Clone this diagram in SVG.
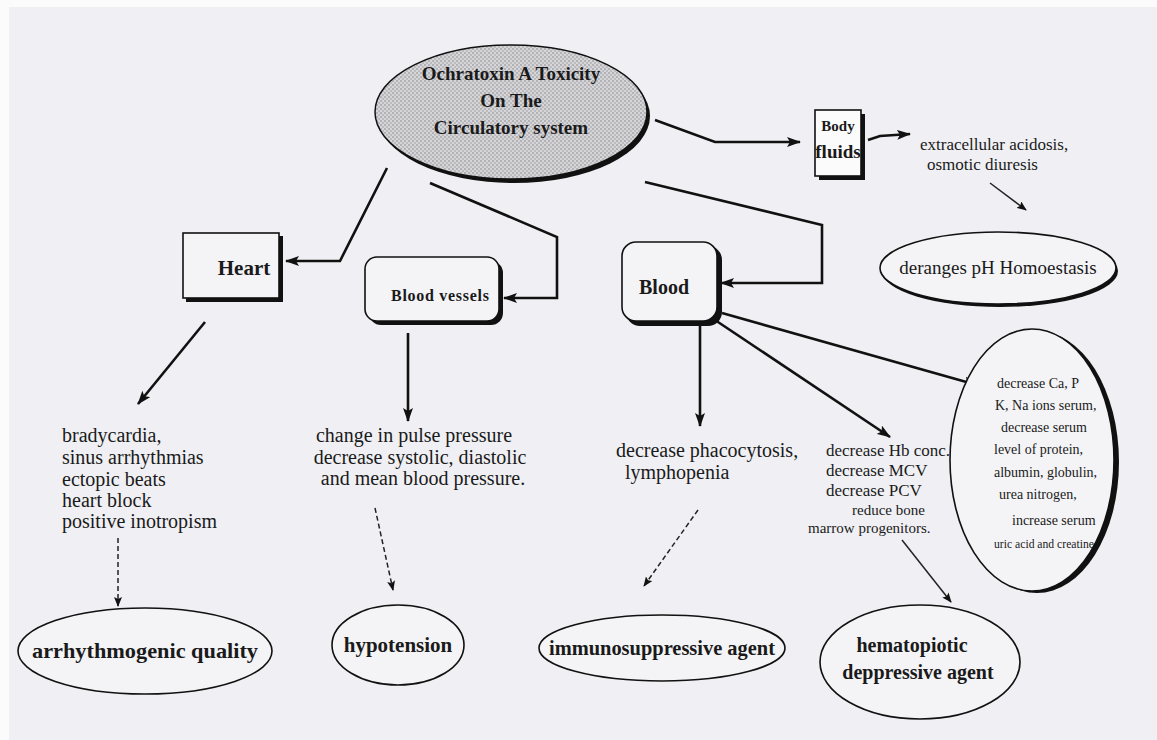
<svg xmlns="http://www.w3.org/2000/svg" width="1157" height="740" viewBox="0 0 1157 740">
<defs>
<style>
.t{font-family:"Liberation Serif","Times New Roman",serif;fill:#1a1a1a}
.b{font-weight:bold}
.c{stroke:#111;stroke-width:2.6;fill:none}
.d{stroke:#222;stroke-width:1.5;fill:none;stroke-dasharray:5 3}
.thin{stroke:#222;stroke-width:1.5;fill:none}
.ol{fill:#f4f4f7;stroke:#111;stroke-width:1.6}
.sh{fill:#111}
</style>
<pattern id="dots" width="4" height="4" patternUnits="userSpaceOnUse">
<rect width="4" height="4" fill="#d6d6d9"/>
<circle cx="1" cy="1" r="0.8" fill="#85858a"/>
<circle cx="3" cy="3" r="0.8" fill="#9a9a9e"/>
</pattern>
<marker id="ah" viewBox="0 0 14 10" refX="13" refY="5" markerWidth="14" markerHeight="10" markerUnits="userSpaceOnUse" orient="auto"><path d="M0,0 L14,5 L0,10 L3,5 z" fill="#111"/></marker>
<marker id="as" viewBox="0 0 10 8" refX="9" refY="4" markerWidth="10" markerHeight="8" markerUnits="userSpaceOnUse" orient="auto"><path d="M0,0 L10,4 L0,8 L2,4 z" fill="#111"/></marker>
</defs>
<rect width="1157" height="740" fill="#f0f0f4"/>
<rect width="1157" height="7" fill="#fbfbfc"/>
<rect width="9" height="740" fill="#fbfbfc"/>

<g id="connectors">
<polyline class="c" points="655,120 715,142 800,142" marker-end="url(#ah)"/>
<polyline class="c" points="868,140 880,136 910,134" marker-end="url(#ah)"/>
<line class="thin" x1="990" y1="183" x2="1026" y2="210" marker-end="url(#as)"/>
<polyline class="c" points="387,168 340,261 286,261" marker-end="url(#ah)"/>
<polyline class="c" points="430,183 557,237 557,298 504,298" marker-end="url(#ah)"/>
<polyline class="c" points="645,182 822,225 822,283 721,283" marker-end="url(#ah)"/>
<line class="c" x1="205" y1="322" x2="138" y2="404" marker-end="url(#ah)"/>
<line class="c" x1="408" y1="333" x2="408" y2="421" marker-end="url(#ah)"/>
<line class="c" x1="700" y1="322" x2="700" y2="426" marker-end="url(#ah)"/>
<line class="c" x1="712" y1="318" x2="890" y2="437" marker-end="url(#ah)"/>
<line class="c" x1="722" y1="313" x2="977" y2="385" marker-end="url(#ah)"/>
<line class="d" x1="118" y1="538" x2="118" y2="606" marker-end="url(#as)"/>
<line class="d" x1="375" y1="508" x2="393" y2="590" marker-end="url(#as)"/>
<line class="d" x1="698" y1="510" x2="644" y2="586" marker-end="url(#as)"/>
<line class="thin" x1="902" y1="540" x2="951" y2="602" marker-end="url(#as)"/>
</g>

<g id="main">
<ellipse cx="514" cy="116" rx="136" ry="67" class="sh"/>
<ellipse cx="511" cy="112" rx="136" ry="67" fill="url(#dots)" stroke="#111" stroke-width="1.5"/>
<text class="t b" x="511" y="80" font-size="19" text-anchor="middle">Ochratoxin A Toxicity</text>
<text class="t b" x="511" y="107" font-size="19" text-anchor="middle">On The</text>
<text class="t b" x="511" y="134" font-size="19" text-anchor="middle">Circulatory system</text>
</g>

<g id="body-fluids">
<rect x="819" y="114" width="46" height="66" class="sh"/>
<rect x="815" y="110" width="46" height="66" fill="#fbfbfb" stroke="#111" stroke-width="1.6"/>
<text class="t b" x="838" y="131" font-size="15" text-anchor="middle">Body</text>
<text class="t b" x="838" y="158" font-size="19" text-anchor="middle">fluids</text>
</g>

<g id="body-fluids-effects">
<text class="t" x="920" y="150" font-size="17">extracellular acidosis,</text>
<text class="t" x="927" y="170" font-size="17">osmotic diuresis</text>
</g>

<g id="deranges">
<ellipse cx="1000" cy="271" rx="118" ry="36" class="sh"/>
<ellipse cx="998" cy="268" rx="118" ry="36" class="ol"/>
<text class="t" x="998" y="274" font-size="19" text-anchor="middle">deranges pH Homoestasis</text>
</g>

<g id="heart">
<rect x="186" y="236" width="97" height="66" class="sh"/>
<rect x="183" y="233" width="96" height="65" fill="#f4f4f7" stroke="#111" stroke-width="1.6"/>
<text class="t b" x="244" y="275" font-size="21" text-anchor="middle">Heart</text>
</g>

<g id="blood-vessels">
<rect x="369" y="261" width="134" height="64" rx="12" class="sh"/>
<rect x="365" y="257" width="134" height="64" rx="12" fill="#f4f4f7" stroke="#111" stroke-width="1.6"/>
<text class="t b" x="440" y="301" font-size="16" text-anchor="middle" textLength="98" lengthAdjust="spacing">Blood vessels</text>
</g>

<g id="blood">
<rect x="626" y="246" width="96" height="80" rx="14" class="sh"/>
<rect x="622" y="242" width="95" height="79" rx="14" fill="#f4f4f7" stroke="#111" stroke-width="1.6"/>
<text class="t b" x="664" y="294" font-size="20" text-anchor="middle">Blood</text>
</g>

<g id="heart-effects">
<text class="t" x="62" y="442" font-size="20">bradycardia,</text>
<text class="t" x="62" y="464" font-size="20">sinus arrhythmias</text>
<text class="t" x="62" y="486" font-size="20">ectopic beats</text>
<text class="t" x="62" y="507" font-size="20">heart block</text>
<text class="t" x="62" y="528" font-size="20">positive inotropism</text>
</g>

<g id="vessel-effects">
<text class="t" x="414" y="442" font-size="20" text-anchor="middle">change in pulse pressure</text>
<text class="t" x="420" y="464" font-size="20" text-anchor="middle">decrease systolic, diastolic</text>
<text class="t" x="423" y="485" font-size="20" text-anchor="middle">and mean blood pressure.</text>
</g>

<g id="blood-immune">
<text class="t" x="616" y="457" font-size="20">decrease phacocytosis,</text>
<text class="t" x="625" y="479" font-size="20">lymphopenia</text>
</g>

<g id="blood-hematologic">
<text class="t" x="826" y="456" font-size="17">decrease Hb conc.</text>
<text class="t" x="826" y="476" font-size="17">decrease MCV</text>
<text class="t" x="826" y="496" font-size="17">decrease PCV</text>
<text class="t" x="852" y="515" font-size="15">reduce bone</text>
<text class="t" x="808" y="533" font-size="15">marrow  progenitors.</text>
</g>

<g id="blood-chemistry">
<ellipse cx="1037" cy="462" rx="82" ry="131" class="sh"/>
<ellipse cx="1032" cy="460" rx="82" ry="131" class="ol"/>
<text class="t" x="997" y="388" font-size="14">decrease Ca, P</text>
<text class="t" x="995" y="410" font-size="14">K, Na ions serum,</text>
<text class="t" x="1001" y="432" font-size="14">decrease serum</text>
<text class="t" x="994" y="454" font-size="14">level of protein,</text>
<text class="t" x="994" y="477" font-size="14">albumin, globulin,</text>
<text class="t" x="999" y="499" font-size="14">urea nitrogen,</text>
<text class="t" x="1012" y="525" font-size="14">increase serum</text>
<text class="t" x="994" y="548" font-size="13" textLength="100" lengthAdjust="spacingAndGlyphs">uric acid and creatine</text>
</g>

<g id="arrhythmogenic">
<ellipse cx="145" cy="651" rx="127" ry="43" class="ol"/>
<text class="t b" x="145" y="658" font-size="21" text-anchor="middle" textLength="226" lengthAdjust="spacingAndGlyphs">arrhythmogenic quality</text>
</g>

<g id="hypotension">
<ellipse cx="398" cy="645" rx="66" ry="40" class="ol"/>
<text class="t b" x="398" y="652" font-size="21" text-anchor="middle">hypotension</text>
</g>

<g id="immunosuppressive">
<ellipse cx="662" cy="648" rx="123" ry="33" class="ol"/>
<text class="t b" x="662" y="655" font-size="20" text-anchor="middle" textLength="226" lengthAdjust="spacingAndGlyphs">immunosuppressive agent</text>
</g>

<g id="hematopoietic">
<ellipse cx="920" cy="662" rx="100" ry="57" class="ol"/>
<text class="t b" x="912" y="652" font-size="20" text-anchor="middle">hematopiotic</text>
<text class="t b" x="918" y="679" font-size="20" text-anchor="middle">deppressive agent</text>
</g>
</svg>
